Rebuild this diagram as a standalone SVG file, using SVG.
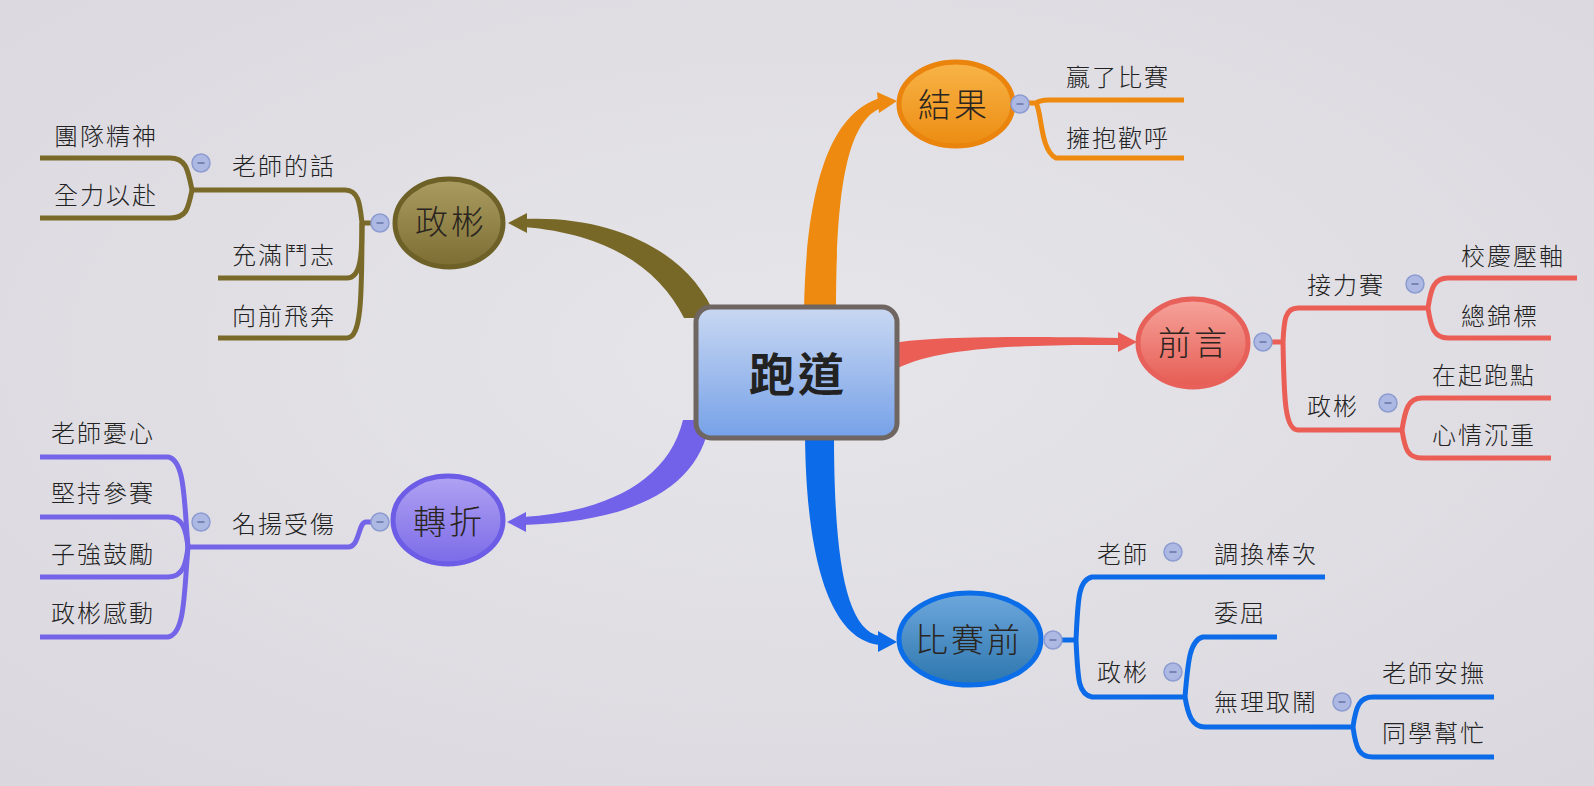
<svg xmlns="http://www.w3.org/2000/svg" width="1594" height="786" viewBox="0 0 1594 786">
<defs>
<radialGradient id="bg" cx="50%" cy="45%" r="75%">
<stop offset="0" stop-color="#e6e5ea"/><stop offset="1" stop-color="#dad8de"/>
</radialGradient>
<linearGradient id="gCenter" x1="0" y1="0" x2="0" y2="1"><stop offset="0" stop-color="#c9d8f2"/><stop offset="1" stop-color="#76a1e8"/></linearGradient>
<linearGradient id="gOrange" x1="0" y1="0" x2="0" y2="1"><stop offset="0" stop-color="#f8b448"/><stop offset="1" stop-color="#ec8c12"/></linearGradient>
<linearGradient id="gOlive" x1="0" y1="0" x2="0" y2="1"><stop offset="0" stop-color="#ab9d62"/><stop offset="1" stop-color="#7c6d32"/></linearGradient>
<linearGradient id="gPurple" x1="0" y1="0" x2="0" y2="1"><stop offset="0" stop-color="#b0a2f2"/><stop offset="1" stop-color="#7b6be8"/></linearGradient>
<linearGradient id="gRed" x1="0" y1="0" x2="0" y2="1"><stop offset="0" stop-color="#f6a39b"/><stop offset="1" stop-color="#e65c53"/></linearGradient>
<linearGradient id="gBlue" x1="0" y1="0" x2="0" y2="1"><stop offset="0" stop-color="#6ea8dc"/><stop offset="1" stop-color="#2c76ae"/></linearGradient>
<g id="minus"><circle r="9" fill="#adb9e3" stroke="#8c9bd0" stroke-width="1.5"/><line x1="-3.5" y1="0" x2="3.5" y2="0" stroke="#6a78a8" stroke-width="1.6"/></g>
</defs>
<style>
text{font-family:"Noto Sans CJK TC","Noto Sans CJK SC",sans-serif;fill:#222;}
.leaf{font-size:24px;letter-spacing:2px;font-weight:300;}
.main{font-size:33px;letter-spacing:3px;text-anchor:middle;fill:#2a2520;font-weight:300;}
.ln{fill:none;stroke-width:5;stroke-linecap:butt;}
.o{stroke:#ee8a10;}.ol{stroke:#7a6a2a;}.p{stroke:#7464e8;}.r{stroke:#ea5e56;}.b{stroke:#0b6be8;}
</style>
<rect width="1594" height="786" fill="url(#bg)"/>

<g id="connectors">
<path d="M 804 310 C 806 200 825 115 880 98 L 881 108 C 845 122 836 200 836 310 Z" fill="#ee8a10"/>
<polygon points="897,101 877,92 879,113" fill="#ee8a10"/>
<path d="M 524 219 C 610 215 690 250 716 318 L 684 318 C 660 270 610 234 524 227 Z" fill="#786828"/>
<polygon points="508,223 527,213 527,233" fill="#786828"/>
<path d="M 523 517 C 605 512 668 482 683 420 L 710 420 C 700 490 630 522 523 525 Z" fill="#7262ea"/>
<polygon points="507,522 526,512 526,532" fill="#7262ea"/>
<path d="M 890 344 C 920 337 1000 336 1120 338 L 1120 345 C 1000 344 930 350 892 371 Z" fill="#ea5e56"/>
<polygon points="1137,342 1118,332 1118,352" fill="#ea5e56"/>
<path d="M 805 434 C 806 560 830 640 880 645 L 880 636 C 846 630 834 560 834 434 Z" fill="#0b6be8"/>
<polygon points="897,642 878,631 878,652" fill="#0b6be8"/>

<path class="ln o" d="M 1028 103 L 1036 103 Q 1040 100 1048 100 L 1184 100"/>
<path class="ln o" d="M 1036 103 C 1042 112 1040 150 1056 158 L 1184 158"/>
<path class="ln ol" d="M 371 223 L 362 223"/>
<path class="ln ol" d="M 362 223 C 360 205 359 190 345 190 L 192 190"/>
<path class="ln ol" d="M 362 223 C 362 255 361 278 347 278 L 218 278"/>
<path class="ln ol" d="M 362 223 C 362 300 361 338 347 338 L 218 338"/>
<path class="ln ol" d="M 192 190 C 188 170 186 158 170 158 L 40 158"/>
<path class="ln ol" d="M 192 190 C 188 210 186 218 170 218 L 40 218"/>
<path class="ln p" d="M 371 522 L 366 522 C 358 522 360 547 348 547 L 188 547"/>
<path class="ln p" d="M 188 547 C 184 500 185 460 168 457 L 40 457"/>
<path class="ln p" d="M 188 547 C 186 530 183 517 168 517 L 40 517"/>
<path class="ln p" d="M 188 547 C 186 564 183 577 168 577 L 40 577"/>
<path class="ln p" d="M 188 547 C 184 594 185 634 168 637 L 40 637"/>
<path class="ln r" d="M 1271 342 L 1283 342"/>
<path class="ln r" d="M 1283 342 C 1284 320 1285 308 1298 308 L 1428 308"/>
<path class="ln r" d="M 1283 342 C 1284 400 1285 430 1298 430 L 1402 430"/>
<path class="ln r" d="M 1428 308 C 1431 288 1434 278 1448 278 L 1577 278"/>
<path class="ln r" d="M 1428 308 C 1431 328 1434 338 1448 338 L 1551 338"/>
<path class="ln r" d="M 1402 430 C 1405 410 1408 398 1422 398 L 1551 398"/>
<path class="ln r" d="M 1402 430 C 1405 450 1408 458 1422 458 L 1551 458"/>
<path class="ln b" d="M 1061 640 L 1076 640"/>
<path class="ln b" d="M 1076 640 C 1078 600 1078 580 1092 577 L 1325 577"/>
<path class="ln b" d="M 1076 640 C 1078 680 1078 694 1092 697 L 1185 697"/>
<path class="ln b" d="M 1185 697 C 1188 660 1190 640 1203 637 L 1277 637"/>
<path class="ln b" d="M 1185 697 C 1188 715 1192 727 1205 727 L 1353 727"/>
<path class="ln b" d="M 1353 727 C 1356 705 1360 697 1373 697 L 1494 697"/>
<path class="ln b" d="M 1353 727 C 1356 750 1360 757 1373 757 L 1494 757"/>
</g>

<g id="center">
<rect x="696" y="307" width="201" height="131" rx="15" fill="url(#gCenter)" stroke="#6f6561" stroke-width="5"/>
<text x="798" y="391" font-size="46" font-weight="bold" text-anchor="middle" letter-spacing="3" fill="#352f2c">跑道</text>
</g>

<g id="node-jieguo">
<ellipse cx="956" cy="104" rx="57" ry="42" fill="url(#gOrange)" stroke="#ea840c" stroke-width="5"/>
<text class="main" x="954" y="117">結果</text>
<use href="#minus" x="1020" y="104"/>
</g>
<g id="leaf-ying"><text class="leaf" x="1066" y="86">贏了比賽</text></g>
<g id="leaf-yongbao"><text class="leaf" x="1066" y="147">擁抱歡呼</text></g>

<g id="node-zhengbin">
<ellipse cx="449" cy="223" rx="54" ry="44" fill="url(#gOlive)" stroke="#6e6128" stroke-width="5"/>
<text class="main" x="451" y="234">政彬</text>
<use href="#minus" x="380" y="223"/>
</g>
<g id="leaf-laoshidehua"><text class="leaf" x="232" y="175">老師的話</text><use href="#minus" x="201" y="163"/></g>
<g id="leaf-tuandui"><text class="leaf" x="54" y="145">團隊精神</text></g>
<g id="leaf-quanli"><text class="leaf" x="54" y="204">全力以赴</text></g>
<g id="leaf-chongman"><text class="leaf" x="232" y="264">充滿鬥志</text></g>
<g id="leaf-xiangqian"><text class="leaf" x="232" y="325">向前飛奔</text></g>

<g id="node-zhuanzhe">
<ellipse cx="448" cy="520" rx="55" ry="44" fill="url(#gPurple)" stroke="#6c5ce6" stroke-width="5"/>
<text class="main" x="449" y="534">轉折</text>
<use href="#minus" x="380" y="522"/>
</g>
<g id="leaf-mingyang"><text class="leaf" x="232" y="533">名揚受傷</text><use href="#minus" x="201" y="522"/></g>
<g id="leaf-youxin"><text class="leaf" x="51" y="442">老師憂心</text></g>
<g id="leaf-jianchi"><text class="leaf" x="51" y="502">堅持參賽</text></g>
<g id="leaf-ziqiang"><text class="leaf" x="51" y="563">子強鼓勵</text></g>
<g id="leaf-gandong"><text class="leaf" x="51" y="622">政彬感動</text></g>

<g id="node-qianyan">
<ellipse cx="1193" cy="343" rx="55" ry="44" fill="url(#gRed)" stroke="#e8605a" stroke-width="5"/>
<text class="main" x="1194" y="355">前言</text>
<use href="#minus" x="1263" y="342"/>
</g>
<g id="leaf-jieli"><text class="leaf" x="1307" y="294">接力賽</text><use href="#minus" x="1415" y="284"/></g>
<g id="leaf-xiaoqing"><text class="leaf" x="1461" y="265">校慶壓軸</text></g>
<g id="leaf-zongjin"><text class="leaf" x="1461" y="325">總錦標</text></g>
<g id="leaf-zhengbin-r"><text class="leaf" x="1307" y="415">政彬</text><use href="#minus" x="1388" y="403"/></g>
<g id="leaf-qipao"><text class="leaf" x="1432" y="384">在起跑點</text></g>
<g id="leaf-xinqing"><text class="leaf" x="1432" y="444">心情沉重</text></g>

<g id="node-bisaiqian">
<ellipse cx="970" cy="639" rx="71" ry="46" fill="url(#gBlue)" stroke="#0b6ee8" stroke-width="5"/>
<text class="main" x="969" y="652">比賽前</text>
<use href="#minus" x="1053" y="640"/>
</g>
<g id="leaf-laoshi-b"><text class="leaf" x="1097" y="563">老師</text><use href="#minus" x="1173" y="552"/></g>
<g id="leaf-diaohuan"><text class="leaf" x="1214" y="563">調換棒次</text></g>
<g id="leaf-zhengbin-b"><text class="leaf" x="1097" y="681">政彬</text><use href="#minus" x="1173" y="672"/></g>
<g id="leaf-weiqu"><text class="leaf" x="1214" y="622">委屈</text></g>
<g id="leaf-wuli"><text class="leaf" x="1214" y="711">無理取鬧</text><use href="#minus" x="1342" y="702"/></g>
<g id="leaf-anfu"><text class="leaf" x="1382" y="682">老師安撫</text></g>
<g id="leaf-bangmang"><text class="leaf" x="1382" y="742">同學幫忙</text></g>
</svg>
